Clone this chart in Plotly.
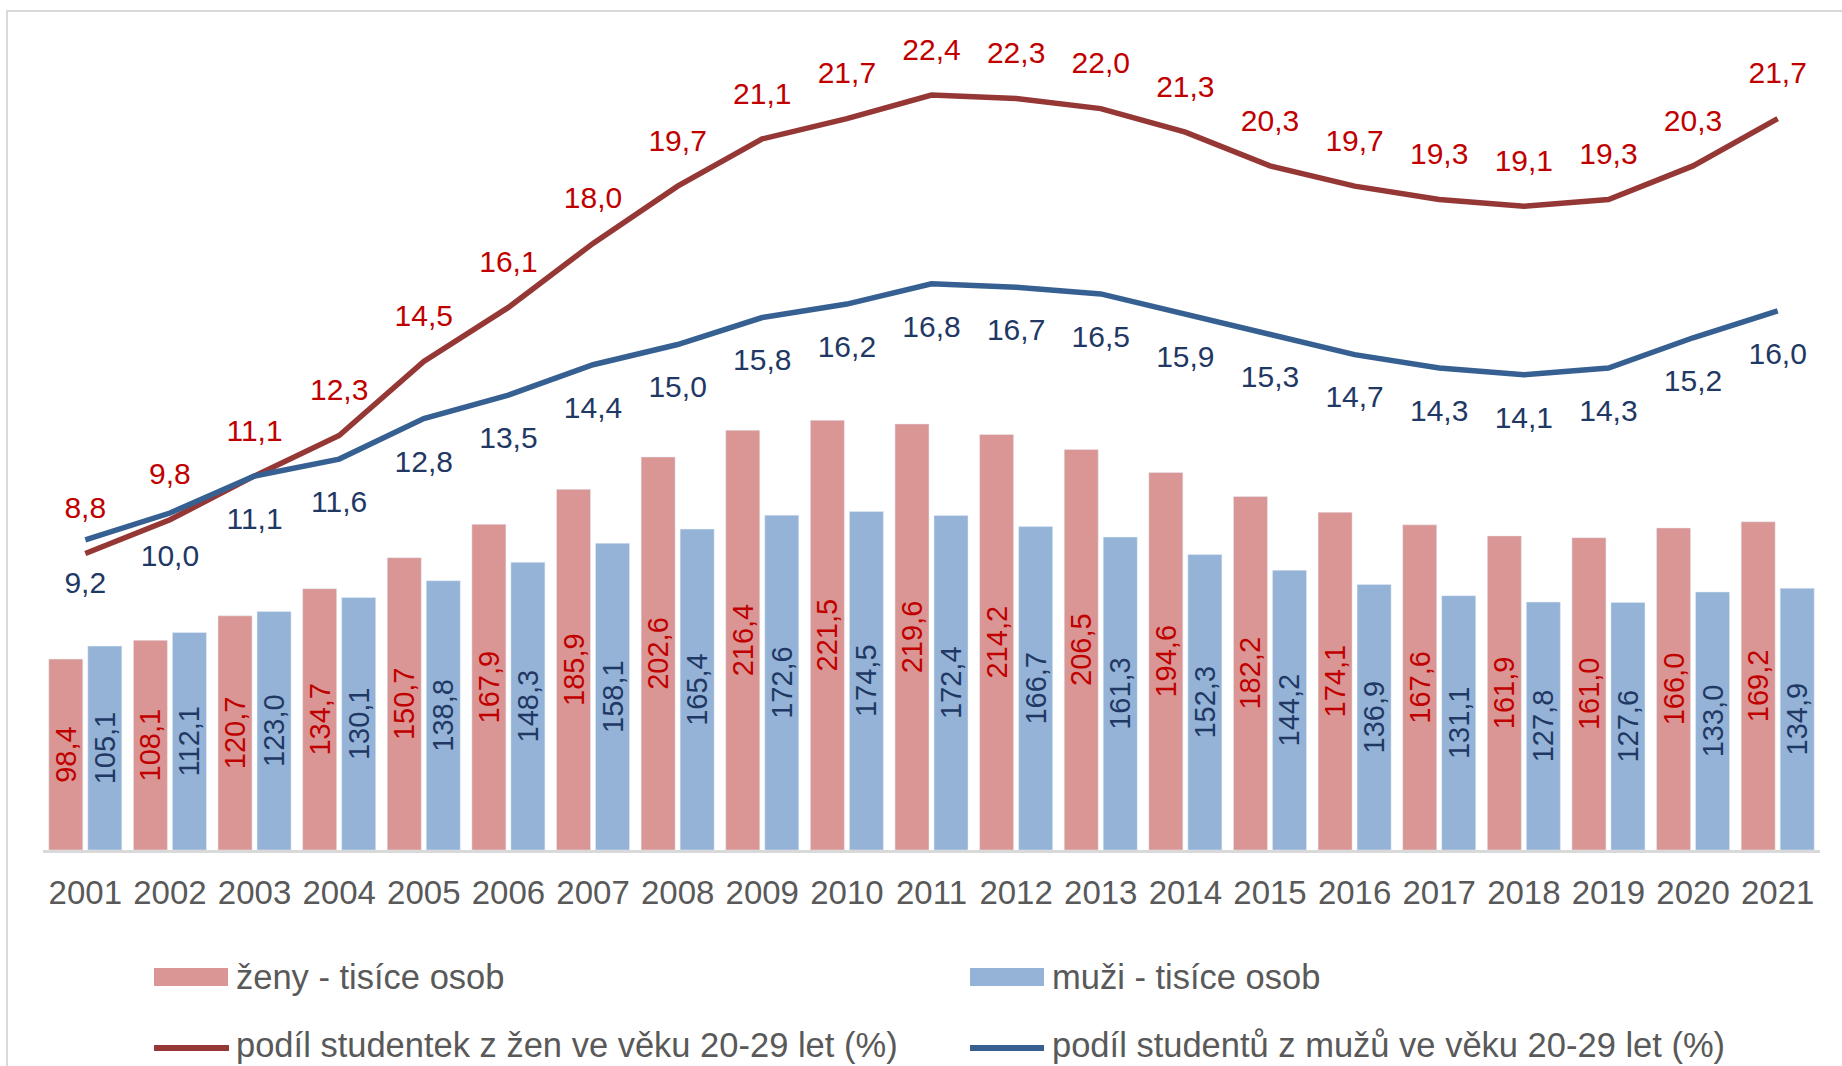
import plotly.graph_objects as go
from plotly.subplots import make_subplots

years = [str(y) for y in range(2001, 2022)]
zeny = [98.4, 108.1, 120.7, 134.7, 150.7, 167.9, 185.9, 202.6, 216.4, 221.5, 219.6,
        214.2, 206.5, 194.6, 182.2, 174.1, 167.6, 161.9, 161.0, 166.0, 169.2]
muzi = [105.1, 112.1, 123.0, 130.1, 138.8, 148.3, 158.1, 165.4, 172.6, 174.5, 172.4,
        166.7, 161.3, 152.3, 144.2, 136.9, 131.1, 127.8, 127.6, 133.0, 134.9]
podil_zeny = [8.8, 9.8, 11.1, 12.3, 14.5, 16.1, 18.0, 19.7, 21.1, 21.7, 22.4,
              22.3, 22.0, 21.3, 20.3, 19.7, 19.3, 19.1, 19.3, 20.3, 21.7]
podil_muzi = [9.2, 10.0, 11.1, 11.6, 12.8, 13.5, 14.4, 15.0, 15.8, 16.2, 16.8,
              16.7, 16.5, 15.9, 15.3, 14.7, 14.3, 14.1, 14.3, 15.2, 16.0]

names = ["ženy - tisíce osob", "muži - tisíce osob",
         "podíl studentek z žen ve věku 20-29 let (%)",
         "podíl studentů z mužů ve věku 20-29 let (%)"]

BAR_F = "#D99694"
BAR_M = "#95B3D7"
LINE_F = "#953735"
LINE_M = "#376092"
LBL_F = "#C00000"
LBL_M = "#1F3864"
TXT = "#595959"
FONT = "Liberation Sans, Arial, sans-serif"

W, H = 1842, 1066
ML, MR, MT, MB = 43, 22, 30, 216
PW = W - ML - MR
PH = H - MT - MB

fig = make_subplots(specs=[[{"secondary_y": True}]])

fig.add_trace(go.Bar(x=years, y=zeny, name=names[0], marker_color=BAR_F,
                     texttemplate="%{y:.1f}", textposition="inside",
                     insidetextanchor="middle", textangle=-90,
                     textfont=dict(size=29, color=LBL_F, family=FONT),
                     showlegend=False), secondary_y=False)
fig.add_trace(go.Bar(x=years, y=muzi, name=names[1], marker_color=BAR_M,
                     texttemplate="%{y:.1f}", textposition="inside",
                     insidetextanchor="middle", textangle=-90,
                     textfont=dict(size=29, color=LBL_M, family=FONT),
                     showlegend=False), secondary_y=False)
fig.add_trace(go.Scatter(x=years, y=podil_zeny, name=names[2], mode="lines+markers+text",
                         line=dict(color=LINE_F, width=5.5),
                         marker=dict(size=43, opacity=0, color=LINE_F),
                         texttemplate="%{y:.1f}", textposition="top center",
                         textfont=dict(size=30, color=LBL_F, family=FONT),
                         cliponaxis=False, showlegend=False), secondary_y=True)
fig.add_trace(go.Scatter(x=years, y=podil_muzi, name=names[3], mode="lines+markers+text",
                         line=dict(color=LINE_M, width=5.5),
                         marker=dict(size=47, opacity=0, color=LINE_M),
                         texttemplate="%{y:.1f}", textposition="bottom center",
                         textfont=dict(size=30, color=LBL_M, family=FONT),
                         cliponaxis=False, showlegend=False), secondary_y=True)


def px(x):
    return (x - ML) / PW


def py(y):
    return (H - MB - y) / PH


shapes = [
    # outer frame
    dict(type="rect", xref="paper", yref="paper", x0=px(7), x1=px(1900),
         y0=py(1200), y1=py(11), line=dict(color="#D9D9D9", width=2), layer="below"),
    # legend swatches
    dict(type="rect", xref="paper", yref="paper", x0=px(154), x1=px(228),
         y0=py(986), y1=py(968), fillcolor=BAR_F, line=dict(width=0)),
    dict(type="rect", xref="paper", yref="paper", x0=px(970), x1=px(1044),
         y0=py(986), y1=py(968), fillcolor=BAR_M, line=dict(width=0)),
    dict(type="line", xref="paper", yref="paper", x0=px(154), x1=px(229),
         y0=py(1048), y1=py(1048), line=dict(color=LINE_F, width=6)),
    dict(type="line", xref="paper", yref="paper", x0=px(970), x1=px(1044),
         y0=py(1048), y1=py(1048), line=dict(color=LINE_M, width=6)),
]

annotations = []
for name, x, y in [(names[0], 234, 977), (names[1], 1050, 977),
                   (names[2], 234, 1045), (names[3], 1050, 1045)]:
    annotations.append(dict(text=name, xref="paper", yref="paper", x=px(x), y=py(y),
                            xanchor="left", yanchor="middle", showarrow=False,
                            font=dict(size=34.5, color=TXT, family=FONT)))

fig.update_layout(
    width=W, height=H,
    margin=dict(l=ML, r=MR, t=MT, b=MB, pad=0),
    paper_bgcolor="white", plot_bgcolor="white",
    barmode="group", bargap=0.078, bargroupgap=0.128,
    separators=", ",
    font=dict(family=FONT, color=TXT),
    uniformtext=dict(minsize=29, mode="show"),
    showlegend=False,
    shapes=shapes, annotations=annotations,
)
fig.update_xaxes(type="category", domain=[0, 1], range=[-0.5, len(years) - 0.5],
                 showline=True, linecolor="#D9D9D9",
                 linewidth=2.5, showgrid=False, ticks="", ticklabelstandoff=12,
                 tickangle=0, tickfont=dict(size=33, color=TXT, family=FONT))
fig.update_yaxes(range=[0, PH / 1.94], visible=False, showgrid=False, secondary_y=False)
fig.update_yaxes(range=[0, PH / 33.7], visible=False, showgrid=False, secondary_y=True)

fig.write_html("out.html", config={"displayModeBar": False},
               post_script="document.body.style.margin='0';document.body.style.overflow='hidden';")
